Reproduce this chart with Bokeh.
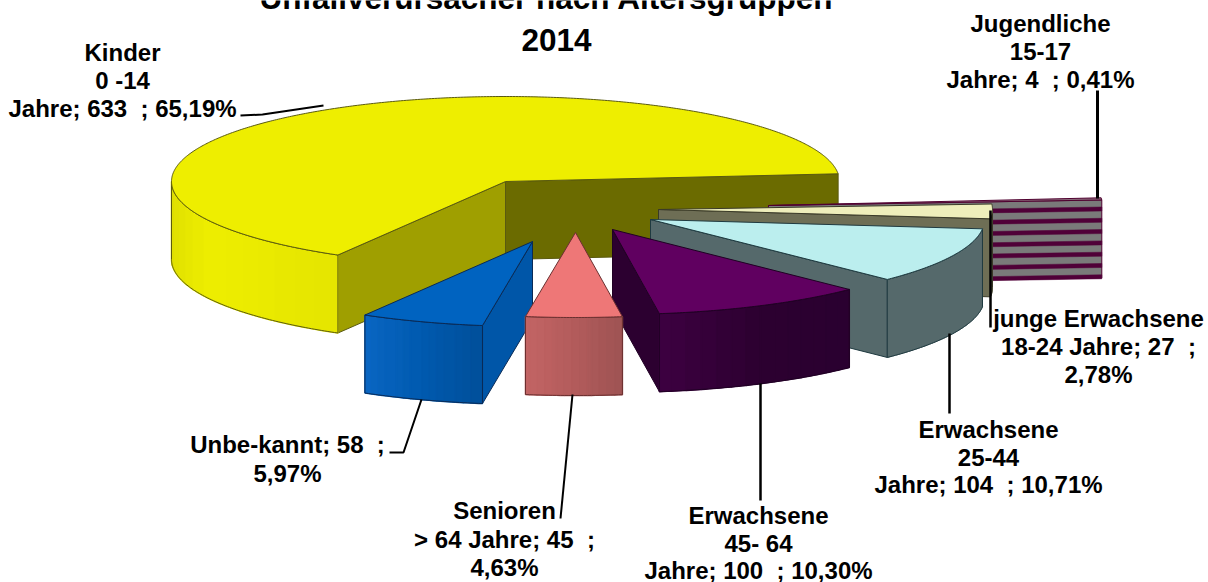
import math
from bokeh.plotting import figure
from bokeh.models import Range1d, ColumnDataSource
from bokeh.core.properties import value
from bokeh.embed import file_html
from bokeh.resources import INLINE

# data (in drawing order counter-clockwise from the start angle)
categories = ["Kinder 0 -14 Jahre", "Unbe-kannt", "Senioren > 64 Jahre", "Erwachsene 45- 64 Jahre",
              "Erwachsene 25-44 Jahre", "junge Erwachsene 18-24 Jahre", "Jugendliche 15-17 Jahre"]
counts = [633, 58, 45, 100, 104, 27, 4]
title_lines = ["Unfallverursacher nach Altersgruppen", "2014"]
NB = "\u00a0"
label_lines = [
    ["Kinder", "0 -14", f"Jahre; 633{NB}{NB}; 65,19%"],
    [f"Unbe-kannt; 58{NB}{NB};", "5,97%"],
    ["Senioren", f"> 64 Jahre; 45{NB}{NB};", "4,63%"],
    ["Erwachsene", "45- 64", f"Jahre; 100{NB}{NB}; 10,30%"],
    ["Erwachsene", "25-44", f"Jahre; 104{NB}{NB}; 10,71%"],
    ["junge Erwachsene", f"18-24 Jahre; 27{NB}{NB};", "2,78%"],
    ["Jugendliche", "15-17", f"Jahre; 4{NB}{NB}; 0,41%"],
]

# layout of the exploded 3-D pie
START = 5.2
RX, RY, DEPTH = 334, 85, 78
apex = [(505, 181), (532, 241), (575, 232), (612, 229), (650, 219), (658, 209), (768, 205)]
label_xy = [(122, 52, 28), (287, 444, 29), (504, 510, 28.5), (758, 515, 27.5),
            (988, 429, 27.5), (1098, 318, 28), (1040, 23, 28)]
leaders = [([240, 262, 323], [115, 114, 105]), ([421, 403, 389], [399, 452, 452]),
           ([572, 560], [394, 518]), ([760, 760], [383, 500]),
           ([949, 949], [333, 413]), ([990, 990], [210, 327]), ([1097, 1097], [90, 198])]
leader_w = [2, 2, 2, 2.5, 2.5, 2.5, 3]
top_col = ["#eeee00", "#0063c0", "#ee7777", "#600060", "#bbeeee", "#eeeebb", "#8a6a7a"]
wall_col = [("#dcdc00", "#eeee00", "#e6e600"), ("#0a66c2", "#005ab0", "#00509c"),
            ("#c26464", "#b45c5c", "#a05454"), ("#3c0040", "#2c0030", "#2a0030"),
            ("#55696b", "#55696b", "#55696b"), ("#6e6e55", "#6e6e55", "#6e6e55"),
            ("#7a7a7a", "#7a7a7a", "#7a7a7a")]
edge_col = ["#5a5a10", "#0a2a55", "#6a3030", "#200024", "#1f3a40", "#3a3a28", "#500030"]
face_start = {0: "#6b6b00", 3: "#2c0030", 4: "#55696b", 5: "#6e6e55", 6: "#7a7a7a"}
face_end = {0: "#9f9f00", 1: "#0056a8"}

total = sum(counts)
angles = [START]
for c in counts:
    angles.append(angles[-1] + 360.0 * c / total)

xs, ys, fills, lines, widths, alphas = [], [], [], [], [], []


def add(px, py, fill, line, w=1.0, a=1.0):
    xs.append(px); ys.append(py); fills.append(fill); lines.append(line); widths.append(w); alphas.append(a)


def pt(i, t):
    r = math.radians(t)
    return apex[i][0] + RX * math.cos(r), apex[i][1] - RY * math.sin(r)


def mix(c1, c2, f):
    a = [int(c1[j:j + 2], 16) for j in (1, 3, 5)]
    b = [int(c2[j:j + 2], 16) for j in (1, 3, 5)]
    return "#%02x%02x%02x" % tuple(round(u + (v - u) * f) for u, v in zip(a, b))


def face(i, t, fill):
    x0, y0 = apex[i]
    x1, y1 = pt(i, t)
    add([x0, x1, x1, x0], [y0, y1, y1 + DEPTH, y0 + DEPTH], fill, edge_col[i], 1.0)


def draw(i):
    t0, t1 = angles[i], angles[i + 1]
    if i in face_start:
        face(i, t0, face_start[i])
    if i in face_end:
        face(i, t1, face_end[i])
    if i == 6:  # striped cut face
        x0, y0 = apex[i]
        x1, y1 = pt(i, t0)
        for k in range(7):
            off = 7 + k * 11.3
            add([x0, x1, x1, x0], [y0 + off, y1 + off, y1 + off + 4, y0 + off + 4], "#500038", "#500038", 0.5)
    # outer wall, facing the viewer only
    n = 14
    lo, hi = max(t0, 180), min(t1, 360)
    if hi > lo:
        wx, wy = [], []
        steps = max(2, int((hi - lo) * 1.5))
        for k in range(steps + 1):
            q = pt(i, lo + (hi - lo) * k / steps)
            wx.append(q[0]); wy.append(q[1])
        c1, c2, c3 = wall_col[i]
        if c1 == c3:
            add(wx + wx[::-1], wy + [v + DEPTH for v in wy[::-1]], c1, c1, 1.0)
        else:
            for k in range(n):
                s0 = steps * k // n
                s1 = steps * (k + 1) // n
                f = k / (n - 1)
                col = mix(c1, c2, f * 2) if f < .5 else mix(c2, c3, f * 2 - 1)
                seg_x = wx[s0:s1 + 1]
                seg_y = wy[s0:s1 + 1]
                add(seg_x + seg_x[::-1], seg_y + [v + DEPTH for v in seg_y[::-1]], col, col, 1.5)
        add(wx + wx[::-1], wy + [v + DEPTH for v in wy[::-1]], "#000000", edge_col[i], 1.0, 0.0)
    # top
    m = max(2, int((t1 - t0) * 2))
    arc = [pt(i, t0 + (t1 - t0) * k / m) for k in range(m + 1)]
    add([apex[i][0]] + [q[0] for q in arc], [apex[i][1]] + [q[1] for q in arc], top_col[i], edge_col[i], 1.0)


for i in [0, 6, 5, 4, 3, 1, 2]:
    draw(i)

p = figure(width=1208, height=582, x_range=Range1d(0, 1208), y_range=Range1d(582, 0),
           output_backend="svg", toolbar_location=None, min_border=0, margin=0)
p.axis.visible = False
p.grid.visible = False
p.outline_line_color = None
p.background_fill_color = "white"

p.patches(xs="xs", ys="ys", fill_color="fill", line_color="line", line_width="w", fill_alpha="a",
          source=ColumnDataSource(dict(xs=xs, ys=ys, fill=fills, line=lines, w=widths, a=alphas)))

for (lx, ly), w in zip(leaders, leader_w):
    p.line(lx, ly, line_color="black", line_width=w)

tx, ty, tt = [], [], []
for lines_, (cx, cy, dy) in zip(label_lines, label_xy):
    for k, s in enumerate(lines_):
        tx.append(cx); ty.append(cy + k * dy); tt.append(s)
p.text(tx, ty, text=tt, text_font=value("Liberation Sans"), text_font_style="bold",
       text_font_size="24px", text_align="center", text_baseline="middle", text_color="black")
p.text([546, 556], [-3, 39], text=title_lines, text_font=value("Liberation Sans"), text_font_style="bold",
       text_font_size="31.5px", text_align="center", text_baseline="middle", text_color="black")

open("out.html", "w").write(file_html(p, INLINE))
